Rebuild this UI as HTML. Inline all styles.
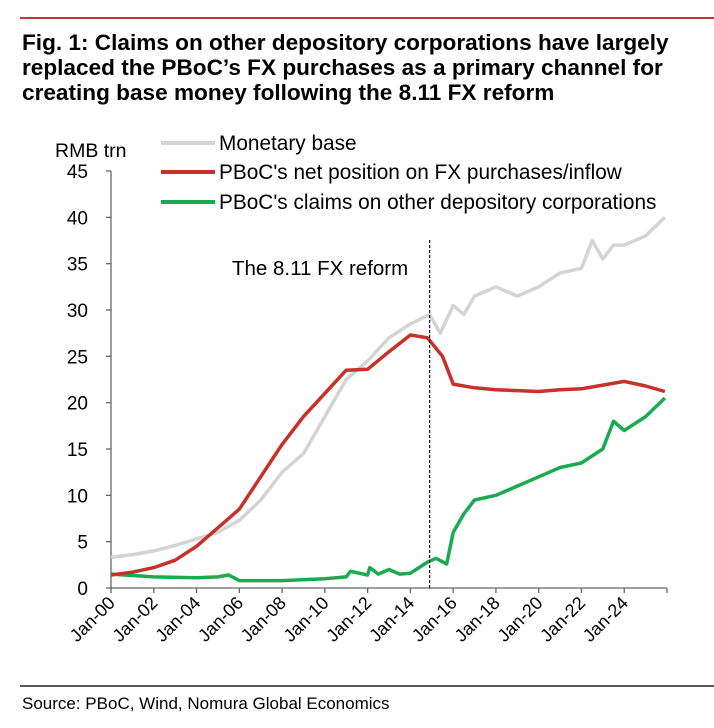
<!DOCTYPE html>
<html><head><meta charset="utf-8">
<style>
body{margin:0;background:#fff;font-family:"Liberation Sans",Arial,sans-serif;}
#wrap{position:relative;width:714px;height:728px;overflow:hidden;}
</style></head><body>
<div id="wrap">
<svg id="chart" width="714" height="728" font-family="Liberation Sans, Arial, sans-serif">
<line x1="20" y1="18" x2="714" y2="18" stroke="#c8372d" stroke-width="2"/>
<text x="22" y="50" font-size="22.6" font-weight="bold">Fig. 1: Claims on other depository corporations have largely</text>
<text x="22" y="75" font-size="22.6" font-weight="bold">replaced the PBoC’s FX purchases as a primary channel for</text>
<text x="22" y="100" font-size="22.6" font-weight="bold">creating base money following the 8.11 FX reform</text>
<text x="55" y="157" font-size="19.5">RMB trn</text>
<g id="plot"></g>
<line x1="20" y1="686" x2="714" y2="686" stroke="#222" stroke-width="1.5"/>
<text x="22" y="709" font-size="17">Source: PBoC, Wind, Nomura Global Economics</text>
</svg>
</div>
<script>
const yTicks=[0,5,10,15,20,25,30,35,40,45];
const xTickYears=[2000,2002,2004,2006,2008,2010,2012,2014,2016,2018,2020,2022,2024];
const xTickLabels=["Jan-00","Jan-02","Jan-04","Jan-06","Jan-08","Jan-10","Jan-12","Jan-14","Jan-16","Jan-18","Jan-20","Jan-22","Jan-24"];
const baseDates=[2000,2001,2002,2003,2004,2005,2006,2007,2008,2009,2010,2011,2012,2013,2014,2014.9,2015.4,2016,2016.5,2017,2018,2019,2020,2021,2022,2022.5,2023,2023.5,2024,2025,2025.9];
const baseVals=[3.3,3.6,4.0,4.6,5.3,6.0,7.3,9.5,12.5,14.5,18.5,22.5,24.5,27,28.5,29.5,27.5,30.5,29.5,31.5,32.5,31.5,32.5,34,34.5,37.5,35.5,37,37,38,40];
const fxDates=[2000,2001,2002,2003,2004,2005,2006,2007,2008,2009,2010,2011,2012,2013,2014,2014.8,2015.5,2016,2017,2018,2019,2020,2021,2022,2023,2024,2025,2025.9];
const fxVals=[1.4,1.7,2.2,3.0,4.5,6.5,8.5,12.0,15.5,18.5,21.0,23.5,23.6,25.5,27.3,27.0,25,22.0,21.6,21.4,21.3,21.2,21.4,21.5,21.9,22.3,21.8,21.2];
const claimDates=[2000,2002,2004,2005,2005.5,2006,2008,2010,2011,2011.2,2012,2012.1,2012.5,2013,2013.5,2014,2014.8,2015.2,2015.7,2016,2016.5,2017,2018,2019,2020,2021,2022,2023,2023.5,2024,2025,2025.9];
const claimVals=[1.5,1.2,1.1,1.2,1.4,0.8,0.8,1.0,1.2,1.8,1.4,2.2,1.5,2.0,1.5,1.6,2.8,3.2,2.6,6.0,8.0,9.5,10.0,11.0,12.0,13.0,13.5,15.0,18,17,18.5,20.5];
const reformDate=2014.9;

const X0=111,X1=667,Y0=588,Y1=171;
const xs=d=>X0+(d-2000)/26*(X1-X0);
const ys=v=>Y0-v/45*(Y0-Y1);
const NS="http://www.w3.org/2000/svg";
const g=document.getElementById('plot');
function mk(t,a){const e=document.createElementNS(NS,t);for(const k in a)e.setAttribute(k,a[k]);g.appendChild(e);return e;}
let ax=mk('line',{x1:X0,y1:Y1,x2:X0,y2:Y0,stroke:'#666','stroke-width':1.3});


let bx=mk('line',{x1:X0,y1:Y0,x2:X1,y2:Y0,stroke:'#666','stroke-width':1.3});


yTicks.forEach(v=>{
 const t=mk('line',{x1:X0-5,y1:ys(v),x2:X0,y2:ys(v),stroke:'#666','stroke-width':1.3});
 
 
 const l=mk('text',{x:88,y:ys(v)+7,'font-size':19,'text-anchor':'end'});
 l.textContent=v;
 
 
});
for(let yr=2000;yr<=2026;yr+=2){
 const t=mk('line',{x1:xs(yr),y1:Y0,x2:xs(yr),y2:Y0+5,stroke:'#666','stroke-width':1.3});
 
 
}
xTickYears.forEach((yr,i)=>{
 const x=xs(yr)+5,y=Y0+16;
 const l=mk('text',{x:x,y:y,'font-size':18,'text-anchor':'end',transform:`rotate(-45 ${x} ${y})`});
 l.textContent=xTickLabels[i];
 
 
});
function series(d,v,col,name){
 const p=mk('polyline',{points:d.map((dd,i)=>xs(dd).toFixed(1)+','+ys(v[i]).toFixed(1)).join(' '),fill:'none',stroke:col,'stroke-width':3.5,'stroke-linejoin':'round'});
 
 
}
series(baseDates,baseVals,'#d4d4d4','monetary-base-line');
series(claimDates,claimVals,'#1aab50','claims-line');
series(fxDates,fxVals,'#c8302a','fx-position-line');
const rl=mk('line',{x1:xs(reformDate),y1:240,x2:xs(reformDate),y2:Y0,stroke:'#111','stroke-width':1.2,'stroke-dasharray':'3,2'});


const rt=mk('text',{x:232,y:275,'font-size':20.5});
rt.textContent='The 8.11 FX reform';


[['Monetary base','#d4d4d4',143],["PBoC's net position on FX purchases/inflow",'#c8302a',172],["PBoC's claims on other depository corporations",'#1aab50',202]].forEach(e=>{
 const l=mk('line',{x1:161,y1:e[2],x2:215,y2:e[2],stroke:e[1],'stroke-width':4});
 
 
 const t=mk('text',{x:219,y:e[2]+7,'font-size':20.8});
 t.textContent=e[0];
 
 
});
</script>
</body></html>
